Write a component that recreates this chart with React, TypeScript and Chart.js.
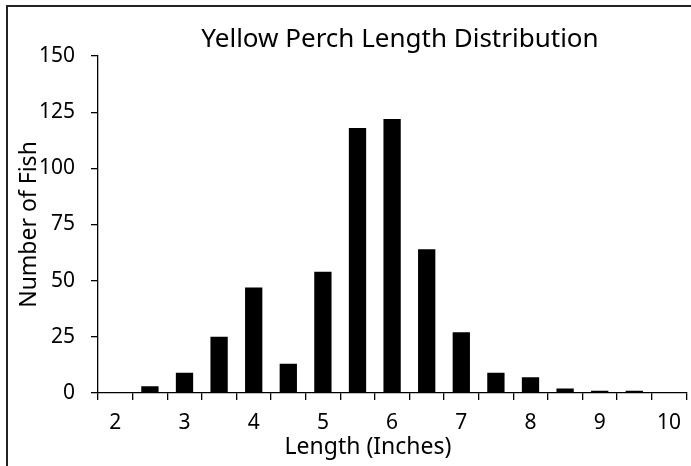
import React, { useEffect, useRef } from "react";
import { Chart, registerables } from "chart.js";

Chart.register(...registerables);

const categories: number[] = [2, 2.5, 3, 3.5, 4, 4.5, 5, 5.5, 6, 6.5, 7, 7.5, 8, 8.5, 9, 9.5, 10];
const fishCounts: number[] = [0, 3, 9, 25, 47, 13, 54, 118, 122, 64, 27, 9, 7, 2, 1, 1, 0];
const yTicks: number[] = [0, 25, 50, 75, 100, 125, 150];

const TITLE = "Yellow Perch Length Distribution";
const X_TITLE = "Length (Inches)";
const Y_TITLE = "Number of Fish";
const FONT = '"Noto Sans", sans-serif';

const W = 691;
const H = 466;

const decorPlugin = {
  id: "decor",
  beforeDraw(chart: any) {
    const ctx = chart.ctx;
    ctx.save();
    ctx.fillStyle = "#fff";
    ctx.fillRect(0, 0, chart.width, chart.height);
    ctx.strokeStyle = "#222";
    ctx.lineWidth = 2;
    ctx.strokeRect(7, 6, 1000, 1000);
    ctx.restore();
  },
  afterDraw(chart: any) {
    const ctx = chart.ctx;
    ctx.save();
    ctx.fillStyle = "#000";
    ctx.textAlign = "center";
    ctx.textBaseline = "middle";
    ctx.font = `26px ${FONT}`;
    ctx.fillText(TITLE, 400, 40);
    ctx.font = `23px ${FONT}`;
    ctx.fillText(X_TITLE, 368, 447);
    ctx.restore();
  },
};

export default function App() {
  const ref = useRef<HTMLCanvasElement | null>(null);

  useEffect(() => {
    if (!ref.current) return;
    const chart = new Chart(ref.current, {
      type: "bar",
      data: {
        labels: categories.map(String),
        datasets: [
          {
            label: Y_TITLE,
            data: fishCounts,
            backgroundColor: "#000",
            borderWidth: 0,
            barPercentage: 0.5,
            categoryPercentage: 1.0,
          },
        ],
      },
      options: {
        animation: false,
        responsive: false,
        devicePixelRatio: 1,
        layout: { padding: { left: 0, top: 56, right: 3, bottom: 0 } },
        plugins: {
          legend: { display: false },
          title: { display: false },
          tooltip: { enabled: false },
        },
        scales: {
          x: {
            type: "category",
            grid: {
              offset: true,
              drawOnChartArea: false,
              drawTicks: true,
              tickLength: 7,
              color: "#000",
              lineWidth: 1.3,
            },
            border: { display: true, color: "#000", width: 1.3 },
            ticks: {
              autoSkip: false,
              maxRotation: 0,
              minRotation: 0,
              padding: 10,
              color: "#000",
              font: { family: FONT, size: 21 },
              callback: (_v: any, i: number) =>
                Number.isInteger(categories[i]) ? String(categories[i]) : "",
            },
            afterFit: (s: any) => {
              s.height = 73;
            },
          },
          y: {
            min: 0,
            max: 150,
            afterBuildTicks: (s: any) => {
              s.ticks = yTicks.map((v) => ({ value: v }));
            },
            grid: {
              drawOnChartArea: false,
              drawTicks: true,
              tickLength: 7,
              color: "#000",
              lineWidth: 1.3,
            },
            border: { display: true, color: "#000", width: 1.3 },
            ticks: {
              padding: 16,
              color: "#000",
              font: { family: FONT, size: 21 },
            },
            title: {
              display: true,
              text: Y_TITLE,
              color: "#000",
              font: { family: FONT, size: 23 },
              padding: { top: 16, bottom: 0 },
            },
            afterFit: (s: any) => {
              s.width = 98;
            },
          },
        },
      },
      plugins: [decorPlugin],
    });
    return () => chart.destroy();
  }, []);

  return (
    <div style={{ position: "fixed", left: 0, top: 0, width: W, height: H, overflow: "hidden", background: "#fff" }}>
      <canvas ref={ref} width={W} height={H} style={{ display: "block", width: W, height: H }} />
    </div>
  );
}
